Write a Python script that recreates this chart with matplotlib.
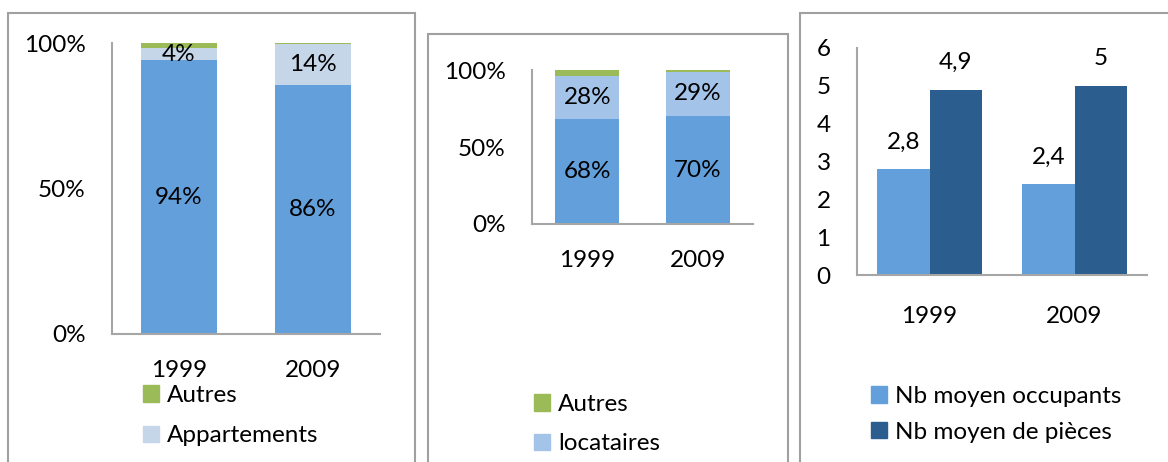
import matplotlib
matplotlib.use("Agg")
import matplotlib.pyplot as plt
from matplotlib.patches import Rectangle, Patch

plt.rcParams['font.family'] = ['Lato', 'DejaVu Sans']
plt.rcParams['font.size'] = 17.5

# données
annees = ["1999", "2009"]

# graphique 1 : type de logement
maisons = [94.0, 85.6]
appartements = [4.2, 13.9]
autres_1 = [1.8, 0.5]

# graphique 2 : statut d'occupation
proprietaires = [68.0, 70.0]
locataires = [28.0, 29.0]
autres_2 = [4.0, 1.0]

# graphique 3 : moyennes
occupants = [2.8, 2.4]
pieces = [4.9, 5.0]

BLEU = "#629FDB"
BLEU_CLAIR = "#C5D6E8"
BLEU_LOC = "#A3C3E8"
VERT = "#9BBB59"
BLEU_FONCE = "#2B5D8F"
GRIS_AXE = "#A6A6A6"
GRIS_CADRE = "#A0A0A0"

W, H = 1168, 462
fig = plt.figure(figsize=(W / 100, H / 100), dpi=100)


def px_axes(x0, y0, x1, y1):
    # coordonnées en pixels (origine en haut à gauche)
    return fig.add_axes([x0 / W, 1 - y1 / H, (x1 - x0) / W, (y1 - y0) / H])


def style_axes(ax, pad_x=19):
    for s in ["top", "right"]:
        ax.spines[s].set_visible(False)
    for s in ["left", "bottom"]:
        ax.spines[s].set_color(GRIS_AXE)
        ax.spines[s].set_linewidth(1.5)
    ax.tick_params(axis="y", length=0, pad=19)
    ax.tick_params(axis="x", length=0, pad=pad_x)
    ax.set_xlim(-0.5, 1.5)


def cadre(x0, y0, x1, y1):
    fig.patches.append(Rectangle((x0 / W, 1 - y1 / H), (x1 - x0) / W, (y1 - y0) / H,
                                 transform=fig.transFigure, fill=False,
                                 edgecolor=GRIS_CADRE, linewidth=1.5))


cadre(8, 13, 415, 470)
cadre(428, 34, 788, 470)
cadre(800, 13, 1180, 470)

x = [0, 1]


def pourcent(v):
    return ["%.0f%%" % a for a in v]


# --- graphique 1 ---
ax1 = px_axes(112, 43, 380, 334)
style_axes(ax1)
largeur = 0.567
b1 = ax1.bar(x, maisons, largeur, color=BLEU)
b2 = ax1.bar(x, appartements, largeur, bottom=maisons, color=BLEU_CLAIR)
bas3 = [a + b for a, b in zip(maisons, appartements)]
b3 = ax1.bar(x, autres_1, largeur, bottom=bas3, color=VERT)
ax1.bar_label(b1, labels=pourcent(maisons), label_type="center")
ax1.bar_label(b2, labels=pourcent(appartements), label_type="center")
ax1.set_ylim(0, 100)
ax1.set_yticks([0, 50, 100])
ax1.set_yticklabels(["0%", "50%", "100%"])
ax1.set_xticks(x)
ax1.set_xticklabels(annees)
fig.legend([Patch(color=VERT), Patch(color=BLEU_CLAIR)], ["Autres", "Appartements"],
           loc="upper left", bbox_to_anchor=(143 / W, 1 - 385 / H), frameon=False,
           borderpad=0, borderaxespad=0, handlelength=0.65, handleheight=0.65,
           handletextpad=0.35, labelspacing=0.8)

# --- graphique 2 ---
ax2 = px_axes(532, 70, 753, 224)
style_axes(ax2)
largeur = 0.577
c1 = ax2.bar(x, proprietaires, largeur, color=BLEU)
c2 = ax2.bar(x, locataires, largeur, bottom=proprietaires, color=BLEU_LOC)
bas3 = [a + b for a, b in zip(proprietaires, locataires)]
c3 = ax2.bar(x, autres_2, largeur, bottom=bas3, color=VERT)
ax2.bar_label(c1, labels=pourcent(proprietaires), label_type="center")
ax2.bar_label(c2, labels=pourcent(locataires), label_type="center")
ax2.set_ylim(0, 100)
ax2.set_yticks([0, 50, 100])
ax2.set_yticklabels(["0%", "50%", "100%"])
ax2.set_xticks(x)
ax2.set_xticklabels(annees)
fig.legend([Patch(color=VERT), Patch(color=BLEU_LOC)], ["Autres", "locataires"],
           loc="upper left", bbox_to_anchor=(534 / W, 1 - 394 / H), frameon=False,
           borderpad=0, borderaxespad=0, handlelength=0.65, handleheight=0.65,
           handletextpad=0.35, labelspacing=0.75)

# --- graphique 3 ---
ax3 = px_axes(857, 48, 1147, 275)
style_axes(ax3, pad_x=22)
largeur = 0.362
d1 = ax3.bar([i - largeur / 2 for i in x], occupants, largeur, color=BLEU)
d2 = ax3.bar([i + largeur / 2 for i in x], pieces, largeur, color=BLEU_FONCE)
fmt = lambda v: ("%g" % v).replace(".", ",")
ax3.bar_label(d1, labels=[fmt(v) for v in occupants], padding=12)
ax3.bar_label(d2, labels=[fmt(v) for v in pieces], padding=12)
ax3.set_ylim(0, 6)
ax3.set_yticks(range(0, 7))
ax3.set_xticks(x)
ax3.set_xticklabels(annees)
fig.legend([Patch(color=BLEU), Patch(color=BLEU_FONCE)],
           ["Nb moyen occupants", "Nb moyen de pièces"],
           loc="upper left", bbox_to_anchor=(871 / W, 1 - 386 / H), frameon=False,
           borderpad=0, borderaxespad=0, handlelength=0.65, handleheight=0.65,
           handletextpad=0.35, labelspacing=0.6)

fig.savefig("out.png", dpi=100)
